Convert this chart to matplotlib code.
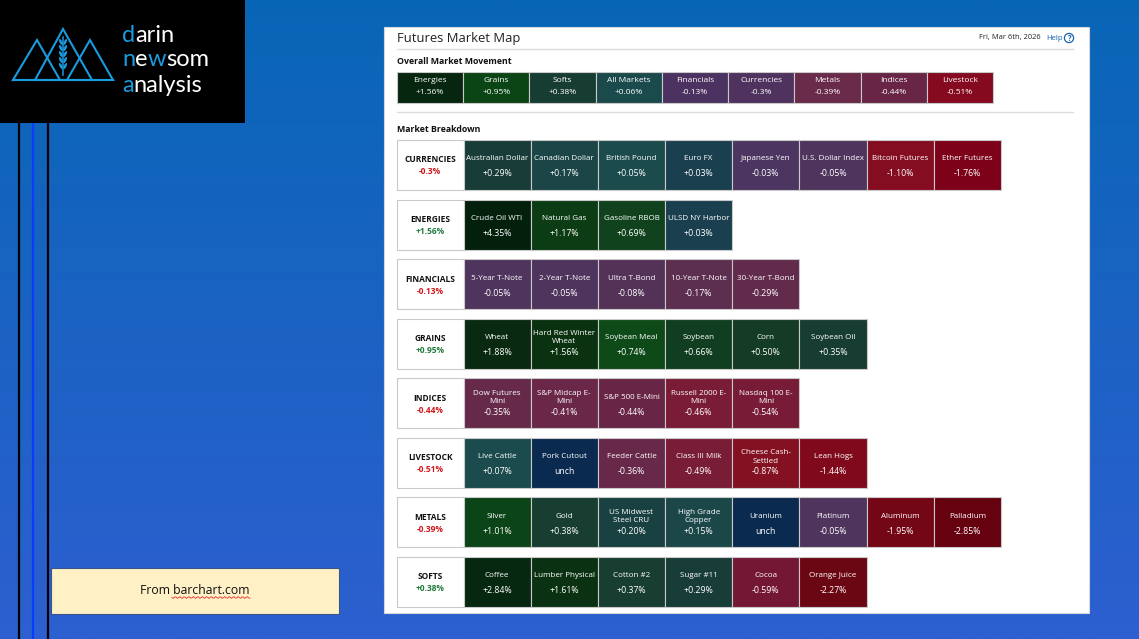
import numpy as np
import matplotlib
matplotlib.use("Agg")
import matplotlib.pyplot as plt
from matplotlib import patches
from matplotlib.colors import to_rgb

# ---------------- data ----------------
overall_names = ["Energies", "Grains", "Softs", "All Markets", "Financials",
                 "Currencies", "Metals", "Indices", "Livestock"]
overall_changes = ["+1.56", "+0.95", "+0.38", "+0.06", "-0.13",
                   "-0.3", "-0.39", "-0.44", "-0.51"]

groups = ["CURRENCIES", "ENERGIES", "FINANCIALS", "GRAINS",
          "INDICES", "LIVESTOCK", "METALS", "SOFTS"]
group_changes = ["-0.3", "+1.56", "-0.13", "+0.95", "-0.44", "-0.51", "-0.39", "+0.38"]

currencies_names = ["Australian Dollar", "Canadian Dollar", "British Pound", "Euro FX",
                    "Japanese Yen", "U.S. Dollar Index", "Bitcoin Futures", "Ether Futures"]
currencies_changes = ["+0.29", "+0.17", "+0.05", "+0.03", "-0.03", "-0.05", "-1.10", "-1.76"]

energies_names = ["Crude Oil WTI", "Natural Gas", "Gasoline RBOB", "ULSD NY Harbor"]
energies_changes = ["+4.35", "+1.17", "+0.69", "+0.03"]

financials_names = ["5-Year T-Note", "2-Year T-Note", "Ultra T-Bond", "10-Year T-Note",
                    "30-Year T-Bond"]
financials_changes = ["-0.05", "-0.05", "-0.08", "-0.17", "-0.29"]

grains_names = ["Wheat", "Hard Red Winter\nWheat", "Soybean Meal", "Soybean", "Corn",
                "Soybean Oil"]
grains_changes = ["+1.88", "+1.56", "+0.74", "+0.66", "+0.50", "+0.35"]

indices_names = ["Dow Futures\nMini", "S&P Midcap E-\nMini", "S&P 500 E-Mini",
                 "Russell 2000 E-\nMini", "Nasdaq 100 E-\nMini"]
indices_changes = ["-0.35", "-0.41", "-0.44", "-0.46", "-0.54"]

livestock_names = ["Live Cattle", "Pork Cutout", "Feeder Cattle", "Class III Milk",
                   "Cheese Cash-\nSettled", "Lean Hogs"]
livestock_changes = ["+0.07", "unch", "-0.36", "-0.49", "-0.87", "-1.44"]

metals_names = ["Silver", "Gold", "US Midwest\nSteel CRU", "High Grade\nCopper", "Uranium",
                "Platinum", "Aluminum", "Palladium"]
metals_changes = ["+1.01", "+0.38", "+0.20", "+0.15", "unch", "-0.05", "-1.95", "-2.85"]

softs_names = ["Coffee", "Lumber Physical", "Cotton #2", "Sugar #11", "Cocoa", "Orange Juice"]
softs_changes = ["+2.84", "+1.61", "+0.37", "+0.29", "-0.59", "-2.27"]

tile_names = [currencies_names, energies_names, financials_names, grains_names,
              indices_names, livestock_names, metals_names, softs_names]
tile_changes = [currencies_changes, energies_changes, financials_changes, grains_changes,
                indices_changes, livestock_changes, metals_changes, softs_changes]

date_text = "Fri, Mar 6th, 2026"

# ---------------- colour scales ----------------
tile_scale = [(-2.9, '#660010'), (-2.3, '#6a0712'), (-2.0, '#700a14'), (-1.8, '#7c0019'),
              (-1.45, '#800a1c'), (-1.1, '#850d22'), (-0.9, '#85101f'), (-0.6, '#731634'),
              (-0.55, '#771b37'), (-0.46, '#7a1c36'), (-0.45, '#682545'), (-0.4, '#6a2747'),
              (-0.3, '#622a4b'), (-0.2, '#5e2c4e'), (-0.1, '#573154'), (-0.03, '#4c3560'),
              (0.03, '#1a4050'), (0.05, '#1b4b4d'), (0.1, '#1b4a4c'), (0.15, '#1b4749'),
              (0.2, '#1a4141'), (0.3, '#183b36'), (0.38, '#173e30'), (0.5, '#133b25'),
              (0.66, '#113e20'), (0.74, '#0d4a18'), (1.0, '#0b4416'), (1.2, '#0b3a14'),
              (1.6, '#0a3111'), (1.9, '#092a11'), (2.9, '#062710'), (4.4, '#03200c')]
overall_scale = [(-0.51, '#850a20'), (-0.44, '#682545'), (-0.39, '#6a2a4a'),
                 (-0.3, '#50325e'), (-0.13, '#4b3260'), (0.06, '#1b4a4c'),
                 (0.38, '#173d33'), (0.95, '#0b4516'), (1.56, '#06260f')]
UNCH = '#0b2a50'


def colour(v, scale):
    if v == 0:
        return UNCH
    xs = np.array([a for a, _ in scale])
    cs = np.array([to_rgb(c) for _, c in scale])
    m = xs > 0 if v > 0 else xs < 0
    xs, cs = xs[m], cs[m]
    return tuple(np.interp(v, xs, cs[:, k]) for k in range(3))


def num(s):
    return 0.0 if s == "unch" else float(s)


def label(s):
    return "unch" if s == "unch" else s + "%"


# ---------------- figure ----------------
W, H = 1139, 639
fig = plt.figure(figsize=(W / 100, H / 100), dpi=100)
ax = fig.add_axes([0, 0, 1, 1])
ax.set_xlim(0, W)
ax.set_ylim(H, 0)
ax.axis('off')

# background gradient
top = np.array(to_rgb('#0866b6'))
bot = np.array(to_rgb('#2d5fd0'))
t = np.linspace(0, 1, 256)[:, None]
grad = (top * (1 - t) + bot * t)[:, None, :]
ax.imshow(grad, extent=[0, W, H, 0], aspect='auto', zorder=0)

# vertical lines
for x, c in [(19, 'black'), (33, '#0a3cff'), (48, 'black')]:
    ax.plot([x, x], [123, H], color=c, lw=1.6, solid_capstyle='butt', zorder=1)

# logo block
ax.add_patch(patches.Rectangle((0, 0), 245, 123, facecolor='black', edgecolor='none', zorder=2))
LB = '#1a9be0'
tris = [[(13, 80), (37, 40), (60, 80)], [(35, 80), (63, 29), (92, 80)],
        [(67, 80), (90, 40), (113, 80)]]
for tr in tris:
    ax.add_patch(patches.Polygon(tr, closed=True, fill=False, edgecolor=LB, lw=1.5, zorder=3))
ax.plot([13, 113], [80, 80], color=LB, lw=1.5, zorder=3)
ax.plot([63, 63], [37, 75], color=LB, lw=1.1, zorder=4)
for yy in [42, 48, 54, 60, 66]:
    ax.add_patch(patches.Ellipse((60.8, yy), 2.6, 6.5, angle=-25, facecolor=LB, edgecolor='none', zorder=4))
    ax.add_patch(patches.Ellipse((65.2, yy), 2.6, 6.5, angle=25, facecolor=LB, edgecolor='none', zorder=4))

renderer = fig.canvas.get_renderer()
logo_lines = [(33, [("d", LB), ("arin", 'white')]),
              (58, [("n", LB), ("e", 'white'), ("w", LB), ("som", 'white')]),
              (83, [("a", LB), ("nalysis", 'white')])]
for yy, parts in logo_lines:
    x = 122
    for s, c in parts:
        tx = ax.text(x, yy, s, color=c, fontsize=17, family='Lato', va='center_baseline',
                     ha='left', zorder=5)
        bb = tx.get_window_extent(renderer)
        x = bb.x1

# white panel
PX0, PY0, PX1, PY1 = 384, 27, 1089, 613
ax.add_patch(patches.Rectangle((PX0, PY0), PX1 - PX0, PY1 - PY0, facecolor='white',
                               edgecolor='#d8d8d8', lw=0.8, zorder=2))
FONT = 'Open Sans'
ax.text(397, 38.5, "Futures Market Map", fontsize=9.4, family=FONT, color='#222222',
        va='center', ha='left', zorder=5)
ax.text(1041, 38, date_text, fontsize=5.4, family=FONT, color='#222222',
        va='center', ha='right', zorder=5)
ax.text(1046, 38, "Help", fontsize=5.6, family=FONT, color='#1a63b0',
        va='center', ha='left', zorder=5)
ax.add_patch(patches.Circle((1069, 38), 4.6, fill=False, edgecolor='#1a63b0', lw=0.9, zorder=5))
ax.text(1069, 38.3, "?", fontsize=5.5, family=FONT, color='#1a63b0', weight='bold',
        va='center', ha='center', zorder=6)
for yy in [49, 112]:
    ax.plot([397, 1073], [yy, yy], color='#dcdcdc', lw=1.0, zorder=3)

ax.text(397, 62, "Overall Market Movement", fontsize=6.3, family=FONT, weight='bold',
        color='#111111', va='center', ha='left', zorder=5)
ax.text(397, 130, "Market Breakdown", fontsize=6.3, family=FONT, weight='bold',
        color='#111111', va='center', ha='left', zorder=5)

EDGE = '#c9c9c9'
# overall boxes
OW = (993 - 397) / len(overall_names)
for i, (n, s) in enumerate(zip(overall_names, overall_changes)):
    x0 = 397 + i * OW
    ax.add_patch(patches.Rectangle((x0, 72), OW, 31, facecolor=colour(num(s), overall_scale),
                                   edgecolor=EDGE, lw=0.8, zorder=3))
    ax.text(x0 + OW / 2, 81, n, fontsize=6.0, family=FONT, color='white',
            va='center', ha='center', zorder=5)
    ax.text(x0 + OW / 2, 93, label(s), fontsize=6.0, family=FONT, color='white',
            va='center', ha='center', zorder=5)

# breakdown rows
ROW0, PITCH, RH = 140, 59.57, 50
LW_ = 66.5
TW = (1001 - 463.5) / 8
for r, g in enumerate(groups):
    y0 = ROW0 + r * PITCH
    ax.add_patch(patches.Rectangle((397, y0), LW_, RH, facecolor='white', edgecolor=EDGE,
                                   lw=0.8, zorder=3))
    ax.text(397 + LW_ / 2, y0 + 20, g, fontsize=6.0, family=FONT, weight='bold',
            color='#111111', va='center', ha='center', zorder=5)
    gv = num(group_changes[r])
    ax.text(397 + LW_ / 2, y0 + 32, label(group_changes[r]), fontsize=6.0, family=FONT,
            weight='bold', color='#1f7a3c' if gv > 0 else '#d0161b',
            va='center', ha='center', zorder=5)
    for k, (n, s) in enumerate(zip(tile_names[r], tile_changes[r])):
        x0 = 463.5 + k * TW
        ax.add_patch(patches.Rectangle((x0, y0), TW, RH, facecolor=colour(num(s), tile_scale),
                                       edgecolor=EDGE, lw=0.8, zorder=3))
        ax.text(x0 + TW / 2, y0 + 19, n, fontsize=5.75, family=FONT, color='white',
                va='center', ha='center', linespacing=1.3, zorder=5)
        ax.text(x0 + TW / 2, y0 + 34, label(s), fontsize=6.3, family=FONT, color='white',
                va='center', ha='center', zorder=5)

# source box
ax.add_patch(patches.Rectangle((51, 568), 288, 46, facecolor='#fff0c6', edgecolor='#3b5687',
                               lw=0.8, zorder=3))
ax.text(195, 590.5, "From barchart.com", fontsize=8.8, family='Open Sans', color='#111111',
        va='center', ha='center', zorder=5)
xs = np.linspace(172, 250, 60)
ax.plot(xs, 597.5 + 0.9 * np.sin((xs - 172) * 1.4), color='#e23030', lw=0.6, zorder=5)

fig.savefig("out.png", dpi=100)
